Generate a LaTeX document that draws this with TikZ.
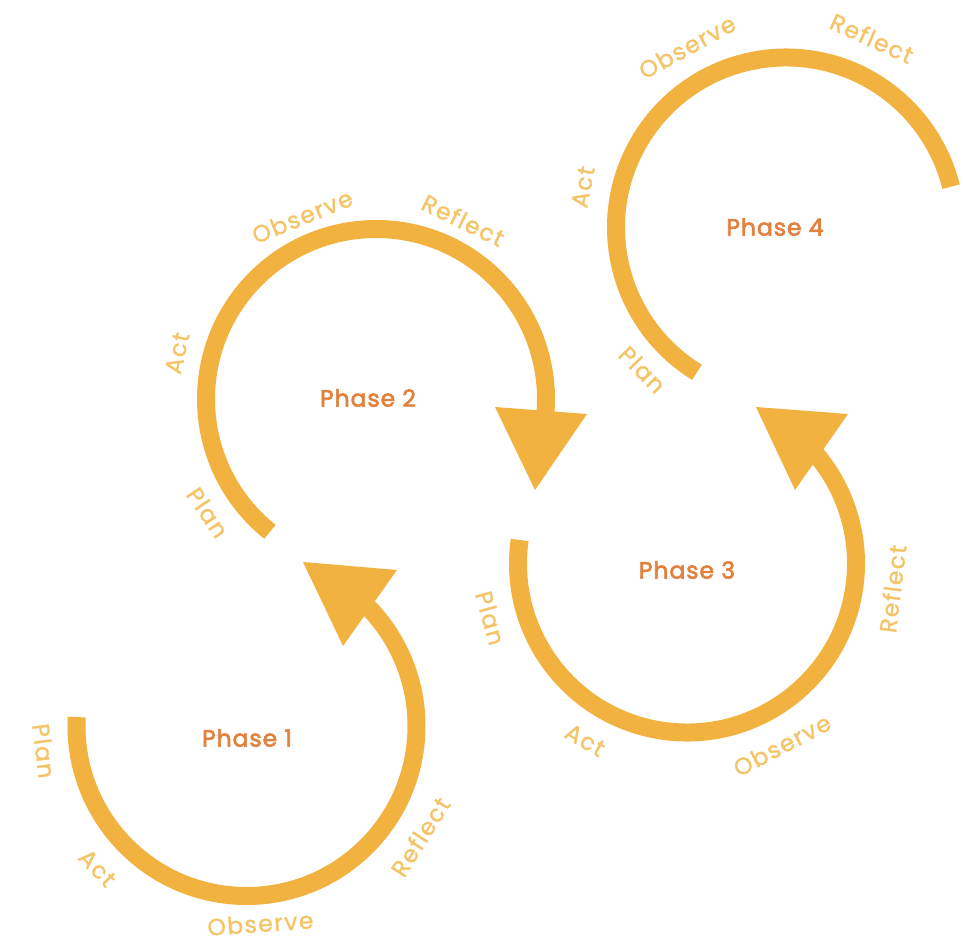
\documentclass[tikz,border=0pt]{standalone}
\usepackage{fontspec}
\setmainfont{Poppins}
\newfontfamily\labfont{Poppins}[FakeBold=1.2,LetterSpace=6]
\newfontfamily\phasefont{Poppins}[FakeBold=2.6,LetterSpace=4]
\definecolor{arcc}{RGB}{242,178,64}
\definecolor{phasec}{RGB}{226,128,62}
\definecolor{labc}{RGB}{244,196,104}
\begin{document}
\begin{tikzpicture}[x=1pt,y=1pt,
  ring/.style={draw=arcc,line width=18pt},
  head/.style={fill=arcc,draw=none},
  phase/.style={text=phasec,inner sep=0pt,font=\phasefont\fontsize{23.5}{26}\selectfont},
  lab/.style={text=labc,inner sep=0pt,font=\labfont\fontsize{23.5}{26}\selectfont}]
\useasboundingbox (0,0) rectangle (963,937);
% circle centres
\coordinate (c1) at (246.5,211);
\coordinate (c2) at (376,538);
\coordinate (c3) at (687,373.5);
\coordinate (c4) at (786,709.5);
% phase names
\node[phase] (p1) at (247,199) {Phase 1};
\node[phase] (p2) at (368,539) {Phase 2};
\node[phase] (p3) at (687,367) {Phase 3};
\node[phase] (p4) at (775,710) {Phase 4};
% rings
\draw[ring] (c1) ++(177:170) arc[start angle=177,end angle=406,radius=170];
\fill[head] (303,375) -- (397,367) -- (343,291) -- cycle;
\draw[ring] (c2) ++(231.4:170) arc[start angle=231.4,end angle=-6,radius=170];
\fill[head] (535,447) -- (495,530) -- (587,523) -- cycle;
\draw[ring] (c3) ++(172:169) arc[start angle=172,end angle=402,radius=169];
\fill[head] (756,530) -- (848,523) -- (795,447) -- cycle;
\draw[ring] (c4) ++(238.4:170) arc[start angle=238.4,end angle=13.9,radius=170];
% labels phase 1
\node[lab,rotate=-83] (l1a) at ([shift={(187:204)}]c1) {Plan};
\node[lab,rotate=-46.4] (l1b) at ([shift={(223.6:206)}]c1) {Act};
\node[lab,rotate=4] (l1c) at ([shift={(274:198)}]c1) {Observe};
\node[lab,rotate=57.5] (l1d) at ([shift={(327.5:206)}]c1) {Reflect};
% labels phase 2
\node[lab,rotate=-56] (l2a) at ([shift={(214:203)}]c2) {Plan};
\node[lab,rotate=77] (l2b) at ([shift={(167:204)}]c2) {Act};
\node[lab,rotate=22] (l2c) at ([shift={(112:197)}]c2) {Observe};
\node[lab,rotate=-26] (l2d) at ([shift={(64:199)}]c2) {Reflect};
% labels phase 3
\node[lab,rotate=-74.5] (l3a) at ([shift={(195.5:204)}]c3) {Plan};
\node[lab,rotate=-30] (l3b) at ([shift={(240:204)}]c3) {Act};
\node[lab,rotate=27.6] (l3c) at ([shift={(297.6:205)}]c3) {Observe};
\node[lab,rotate=83] (l3d) at ([shift={(353:207)}]c3) {Reflect};
% labels phase 4
\node[lab,rotate=-45.3] (l4a) at ([shift={(224.7:202)}]c4) {Plan};
\node[lab,rotate=78.7] (l4b) at ([shift={(168.7:207)}]c4) {Act};
\node[lab,rotate=28.7] (l4c) at ([shift={(118.7:206)}]c4) {Observe};
\node[lab,rotate=-24.4] (l4d) at ([shift={(65.6:208)}]c4) {Reflect};
\end{tikzpicture}
\end{document}
